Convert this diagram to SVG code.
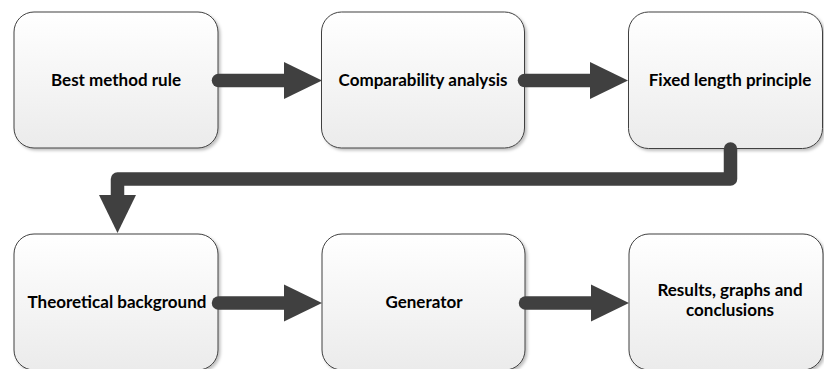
<svg xmlns="http://www.w3.org/2000/svg" width="824" height="369" viewBox="0 0 824 369">
  <defs>
    <linearGradient id="boxFill" x1="0" y1="0" x2="0" y2="1">
      <stop offset="0" stop-color="#ffffff"/>
      <stop offset="1" stop-color="#ebebeb"/>
    </linearGradient>
    <filter id="shadow" x="-10%" y="-10%" width="130%" height="130%">
      <feDropShadow dx="2" dy="2" stdDeviation="1.5" flood-color="#000000" flood-opacity="0.25"/>
    </filter>
    <marker id="head" markerUnits="userSpaceOnUse" markerWidth="40" markerHeight="38" refX="0" refY="18.5" orient="auto" overflow="visible">
      <path d="M0,0 L38,18.5 L0,37 Z" fill="#404040"/>
    </marker>
    <style>
      .box { fill: url(#boxFill); stroke: #404040; stroke-width: 1; filter: url(#shadow); }
      .lbl { font-family: Lato, "Open Sans", "Liberation Sans", sans-serif; font-weight: bold; font-size: 17px; fill: #000000; text-anchor: middle; }
      .conn { fill: none; stroke: #404040; stroke-width: 13.5; stroke-linecap: round; stroke-linejoin: round; }
    </style>
  </defs>
  <rect width="824" height="369" fill="#ffffff"/>

  <g id="n1">
    <rect class="box" x="14" y="12" width="204" height="136" rx="20" ry="20"/>
    <text class="lbl" x="116" y="86">Best method rule</text>
  </g>
  <g id="n2">
    <rect class="box" x="321.5" y="12" width="203" height="136" rx="20" ry="20"/>
    <text class="lbl" x="423" y="86">Comparability analysis</text>
  </g>
  <g id="n3">
    <rect class="box" x="628.5" y="12" width="194" height="136.5" rx="20" ry="20"/>
    <text class="lbl" x="730" y="86">Fixed length principle</text>
  </g>
  <g id="n4">
    <rect class="box" x="14" y="234" width="204" height="136" rx="20" ry="20"/>
    <text class="lbl" x="117" y="308">Theoretical background</text>
  </g>
  <g id="n5">
    <rect class="box" x="322" y="234" width="203" height="136" rx="20" ry="20"/>
    <text class="lbl" x="424" y="308">Generator</text>
  </g>
  <g id="n6">
    <rect class="box" x="629" y="234" width="194" height="136" rx="20" ry="20"/>
    <text class="lbl" x="730" y="296">Results, graphs and</text>
    <text class="lbl" x="730" y="316">conclusions</text>
  </g>

  <g id="connectors">
    <path class="conn" d="M218.5,80.5 L284,80.5" marker-end="url(#head)"/>
    <path class="conn" d="M524.5,80.5 L590,80.5" marker-end="url(#head)"/>
    <path class="conn" d="M730.5,149 L730.5,179 L117.5,179 L117.5,195" marker-end="url(#head)"/>
    <path class="conn" d="M218.5,303 L284,303" marker-end="url(#head)"/>
    <path class="conn" d="M525.5,303 L591,303" marker-end="url(#head)"/>
  </g>
</svg>
